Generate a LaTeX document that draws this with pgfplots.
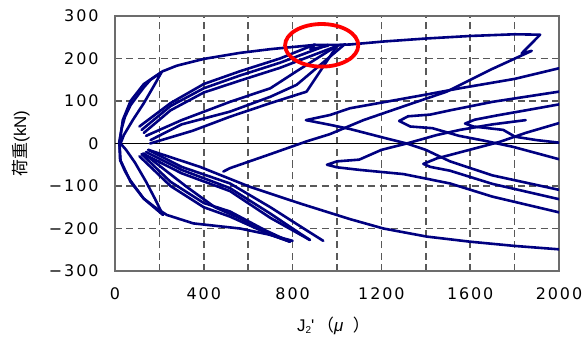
\documentclass[border=0pt]{standalone}
\usepackage{pgfplots}
\pgfplotsset{compat=1.18}
\usepackage{fontspec}
\setmainfont{DejaVu Sans}
\newfontfamily\cjk{Noto Sans CJK JP}
\newfontfamily\lib{Liberation Sans}
\definecolor{navy}{RGB}{0,0,128}
\begin{document}
\begin{tikzpicture}
\useasboundingbox (-115bp,-71bp) rectangle (472bp,271bp);
\begin{axis}[
  scale only axis, width=444bp, height=255bp,
  xmin=0, xmax=2000, ymin=-300, ymax=300,
  xtick={0,400,800,1200,1600,2000},
  xticklabels={0,400,800,1200,1600,2000},
  minor xtick={200,600,1000,1400,1800},
  ytick={-300,-200,-100,0,100,200,300},
  yticklabels={−300,−200,−100,0,100,200,300},
  grid=both,
  grid style={black!65, line width=1.6bp, dash pattern=on 7bp off 4.5bp},
  major grid style={black!65, line width=1.6bp, dash pattern=on 7bp off 4.5bp},
  minor grid style={black!65, line width=1.6bp, dash pattern=on 7bp off 4.5bp},
  major tick length=0pt, minor tick length=0pt,
  axis line style={gray!85!black, line width=1.2pt},
  tick label style={font=\fontsize{16}{16}\selectfont\addfontfeatures{LetterSpace=12}},
  xticklabel shift=13bp, yticklabel shift=13bp,
  xlabel={\lib\fontsize{17}{17}\selectfont J\raisebox{-0.25ex}{\fontsize{10}{10}\selectfont 2}'\,{\cjk （}{\itshape μ}\ \ {\cjk ）}},
  xlabel style={anchor=center, at={(axis description cs:0.492,-0.216)}},
  ylabel={{\cjk\fontsize{17}{17}\selectfont 荷重}{\lib\fontsize{17}{17}\selectfont (kN)}},
  ylabel style={anchor=center, at={(axis description cs:-0.212,0.5)}},
  hl/.style={navy, line width=2.6bp, line join=round, line cap=round, mark=none},
]
\addplot[black, line width=1.1bp, forget plot] coordinates {(0,0)(2000,0)};
% small loops near origin
\addplot[hl] coordinates {(20,0)(35,55)(70,100)(130,140)(210,168)(180,140)(130,95)(80,55)(40,20)(25,0)};
\addplot[hl] coordinates {(20,0)(25,-40)(70,-90)(130,-130)(216,-168)(180,-130)(140,-90)(90,-45)(50,-15)(25,0)};
% lower envelope
\addplot[hl] coordinates {(20,0)(23,-39)(45,-65)(68,-86)(128,-129)(180,-150)(233,-168)(353,-188)(563,-200)(700,-215)(788,-231)};
% upper bundle
\addplot[hl] coordinates {(110,40)(250,95)(400,140)(563,170)(743,200)(900,233)(880,222)(960,230)};
\addplot[hl] coordinates {(120,32)(250,88)(400,130)(563,160)(743,190)(960,232)};
\addplot[hl] coordinates {(130,25)(250,78)(400,120)(563,148)(743,178)(1013,232)};
\addplot[hl] coordinates {(140,18)(300,55)(518,98)(700,130)(818,170)(1000,230)};
\addplot[hl] coordinates {(160,8)(300,45)(518,75)(700,110)(818,138)(1036,234)};
\addplot[hl] coordinates {(158,0)(350,30)(518,63)(700,95)(863,122)(998,228)};
% lower bundle
\addplot[hl] coordinates {(150,-15)(300,-55)(518,-94)(700,-150)(850,-200)(938,-229)};
\addplot[hl] coordinates {(140,-20)(300,-62)(518,-105)(700,-165)(800,-200)(878,-227)};
\addplot[hl] coordinates {(130,-25)(300,-70)(518,-112)(700,-175)(878,-227)};
\addplot[hl] coordinates {(120,-25)(250,-90)(400,-140)(518,-160)(680,-205)(788,-231)};
\addplot[hl] coordinates {(110,-30)(250,-100)(400,-150)(518,-172)(680,-210)(788,-231)};
\addplot[hl] coordinates {(128,-23)(323,-102)(450,-150)(563,-176)(700,-215)(800,-229)};
% final positive loading and unloading
\addplot[hl] coordinates {(18,0)(30,35)(45,63)(70,90)(98,110)(130,132)(160,150)(215,170)(278,183)(400,199)(560,213)(700,222)(820,228)(900,232)(1000,232)(1060,233)(1210,240)(1400,247)(1600,253)(1800,257)(1915,256)(1832,212)(1877,218)(1689,173)(1494,122)(1314,90)(1119,55)(968,22)(863,5)(700,-25)(518,-58)(488,-66)};
% final negative loading
\addplot[hl] coordinates {(150,-15)(383,-55)(608,-102)(833,-141)(1059,-178)(1209,-200)(1404,-219)(1599,-231)(1800,-241)(2000,-249)};
% right-hand cycles
\addplot[hl] coordinates {(2000,177)(1800,152)(1554,130)(1400,115)(1209,97)(1059,83)(968,67)(860,55)(968,44)(1059,34)(1200,15)(1314,0)(1400,-15)(1509,-42)(1700,-75)(2000,-109)};
\addplot[hl] coordinates {(2000,122)(1700,98)(1509,78)(1420,68)(1320,64)(1280,53)(1330,40)(1430,36)(1550,18)(1650,8)(1794,-8)(2000,-37)};
\addplot[hl] coordinates {(2000,92)(1850,78)(1720,66)(1620,56)(1577,47)(1614,40)(1749,32)(1802,16)(1899,8)(2000,2)};
\addplot[hl] coordinates {(2000,48)(1850,25)(1734,4)(1509,-27)(1450,-35)(1389,-48)(1420,-55)(1509,-64)(1700,-95)(2000,-131)};
\addplot[hl] coordinates {(1850,55)(1700,45)(1554,32)(1450,20)(1314,0)(1200,-15)(1100,-38)(1000,-42)(955,-50)(1000,-56)(1100,-62)(1300,-72)(1509,-94)(1700,-125)(2000,-162)};
\coordinate (rc) at (axis cs:931,231);
\end{axis}
\draw[red, line width=3.8bp] (rc) ellipse [x radius=36.6bp, y radius=21.3bp];
\end{tikzpicture}
\end{document}
